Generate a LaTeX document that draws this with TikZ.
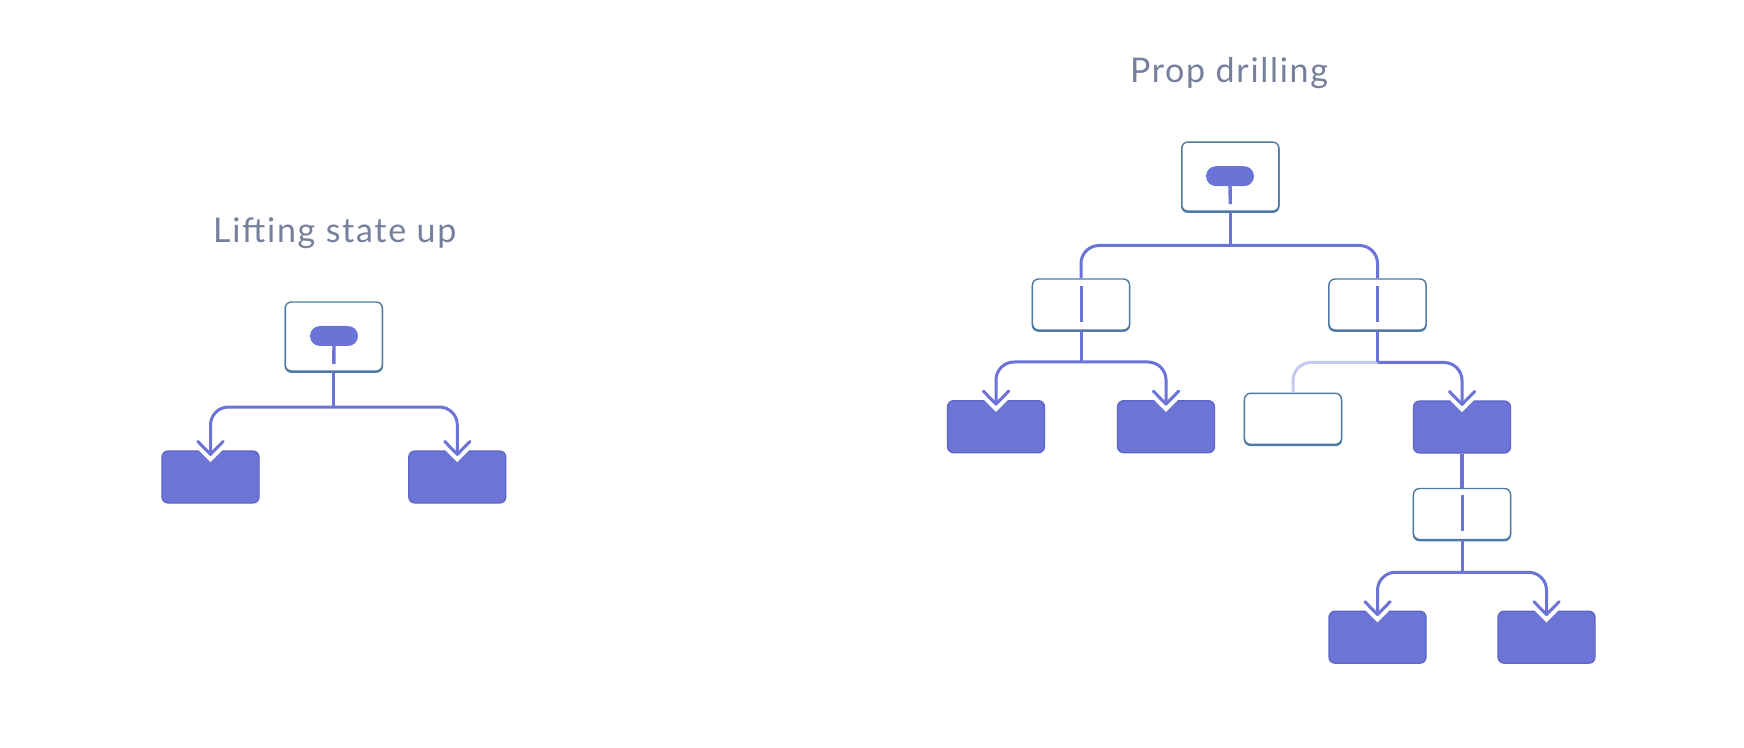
\documentclass[tikz,border=0pt]{standalone}
\usepackage{fontspec}
\setmainfont{Lato}[LetterSpace=5]
\usetikzlibrary{calc}
\definecolor{ln}{HTML}{6B74D6}
\definecolor{lt}{HTML}{C6C9F1}
\definecolor{bd}{HTML}{4E7BA5}
\definecolor{fl}{HTML}{6C75D5}
\definecolor{fb}{HTML}{5C65C6}
\definecolor{tx}{HTML}{76809D}
\begin{document}
\begin{tikzpicture}[x=0.5pt,y=-0.5pt,
  outline/.style={draw=bd, fill=white, line width=0.7pt, rounded corners=3pt,
    minimum width=48.5pt, minimum height=25.5pt, inner sep=0pt,
    preaction={draw=bd, line width=0.8pt, transform canvas={yshift=-0.5pt}}},
  topbox/.style={outline, minimum height=34.5pt},
  filled/.style={fill=fl, draw=fb, line width=0.6pt, rounded corners=3pt,
    minimum width=48.5pt, minimum height=26pt, inner sep=0pt},
  pill/.style={fill=ln, rounded corners=5pt, minimum width=24pt, minimum height=10pt, inner sep=0pt},
  conn/.style={draw=ln, line width=1.5pt, rounded corners=9pt},
  lightconn/.style={draw=lt, line width=1.5pt, rounded corners=9pt},
  bar/.style={draw=ln, line width=1.5pt},
  stem/.style={draw=ln, line width=1.7pt},
  title/.style={text=tx, font=\fontsize{17}{20}\selectfont, anchor=base, inner sep=0pt},
  pics/knock/.style={code={\draw[white, line width=5.5pt, line join=miter, line cap=butt] (-13,-13) -- (0,0) -- (13,-13);}},
  pics/chev/.style={code={\draw[ln, line width=1.5pt, line join=round, line cap=round] (-12.7,-13) -- (0,0) -- (12.7,-13);}}
]
\fill[white] (0,0) rectangle (1744,748);
\useasboundingbox (0,0) rectangle (1744,748);

% titles
\node[title] (t1) at (334.7,242.7) {Lifting state up};
\node[title] (t2) at (1229,82.7) {Prop drilling};

% ---------- left tree ----------
\node[topbox] (LT) at (333.8,336.5) {};
\node[pill] (LP) at (334,336) {};
\draw[stem] ($(LP.south)+(0,-1)$) -- ($(LT.center)+(0,27.5)$);
\node[filled] (L1) at (210.5,477) {};
\node[filled] (L2) at (457.3,477) {};
\coordinate (L1t) at ($(L1.north)+(0,4)$);
\coordinate (L2t) at ($(L2.north)+(0,4)$);
\coordinate (jL) at (333.8,407);
\pic at (L1t) {knock};
\pic at (L2t) {knock};
\draw[conn] (L1t) -- (L1t |- jL) -- (L2t |- jL) -- (L2t);
\draw[bar] (LT.south) -- (jL);
\pic at (L1t) {chev};
\pic at (L2t) {chev};

% ---------- right tree ----------
\node[topbox] (RT) at (1230.3,176.6) {};
\node[pill] (RP) at (1230,176.2) {};
\draw[stem] ($(RP.south)+(0,-1)$) -- ($(RT.center)+(0,27.5)$);

\node[outline] (A) at (1081,304.5) {};
\node[outline] (B) at (1377.5,304.5) {};
\draw[bar] ($(A.center)+(0,-18.5)$) -- ($(A.center)+(0,17.5)$);
\draw[bar] ($(B.center)+(0,-18.5)$) -- ($(B.center)+(0,17.5)$);
\coordinate (jT) at (1230.3,245.5);
\draw[conn] (A.north) -- (A.north |- jT) -- (B.north |- jT) -- (B.north);
\draw[bar] (RT.south) -- (jT);

% under A
\node[filled] (A1) at (996,426.7) {};
\node[filled] (A2) at (1166,426.7) {};
\coordinate (A1t) at ($(A1.north)+(0,4)$);
\coordinate (A2t) at ($(A2.north)+(0,4)$);
\coordinate (jA) at (1081,362);
\pic at (A1t) {knock};
\pic at (A2t) {knock};
\draw[conn] (A1t) -- (A1t |- jA) -- (A2t |- jA) -- (A2t);
\draw[bar] (A.south) -- (jA);
\pic at (A1t) {chev};
\pic at (A2t) {chev};

% under B
\node[outline] (W) at (1293,418.8) {};
\node[filled] (B2) at (1462,427) {};
\coordinate (B2t) at ($(B2.north)+(0,4)$);
\coordinate (jB) at (1377.5,362.5);
\draw[lightconn] (jB) -- (W.north |- jB) -- (W.north);
\pic at (B2t) {knock};
\draw[conn] (jB) -- (B2t |- jB) -- (B2t);
\draw[bar] (B.south) -- (jB);
\pic at (B2t) {chev};

% below B2
\node[outline] (C) at (1462,514) {};
\draw[bar] ($(C.center)+(0,-19)$) -- ($(C.center)+(0,16.5)$);
\draw[draw=ln, line width=1.8pt] (B2.south) -- (C.north);
\node[filled] (C1) at (1377.5,637.2) {};
\node[filled] (C2) at (1546.5,637.2) {};
\coordinate (C1t) at ($(C1.north)+(0,4)$);
\coordinate (C2t) at ($(C2.north)+(0,4)$);
\coordinate (jC) at (1462,572.3);
\pic at (C1t) {knock};
\pic at (C2t) {knock};
\draw[conn] (C1t) -- (C1t |- jC) -- (C2t |- jC) -- (C2t);
\draw[bar] (C.south) -- (jC);
\pic at (C1t) {chev};
\pic at (C2t) {chev};
\end{tikzpicture}
\end{document}
